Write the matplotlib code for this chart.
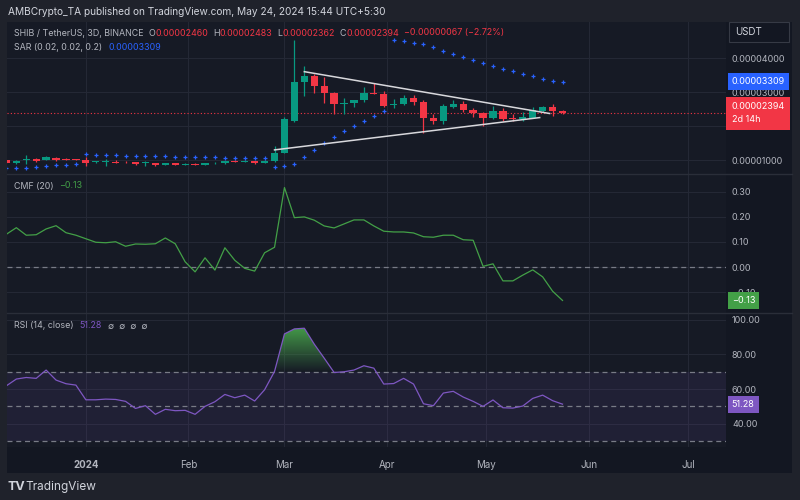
import numpy as np
import pandas as pd
import matplotlib
matplotlib.use("Agg")
import matplotlib.pyplot as plt
import matplotlib.dates as mdates
import matplotlib.transforms as mtransforms
from matplotlib.path import Path
from matplotlib.colors import LinearSegmentedColormap
from matplotlib.patches import Rectangle
from matplotlib.lines import Line2D

plt.rcParams['font.family'] = ['Inter', 'DejaVu Sans']

# SHIB/USDT 3D candles, prices in units of 1e-5 USDT
opens = [1.00, 0.93, 1.01, 1.03, 1.01, 1.08, 1.05, 1.04, 1.02, 0.94,
         0.95, 0.96, 0.96, 0.95, 0.92, 0.92, 0.87, 0.92, 0.88, 0.90,
         0.88, 0.91, 0.91, 0.99, 0.95, 0.97, 0.92, 0.97, 1.23, 2.17,
         3.30, 3.47, 3.20, 2.97, 2.67, 2.69, 2.78, 2.99, 2.95, 2.62,
         2.65, 2.84, 2.73, 2.25, 2.17, 2.58, 2.66, 2.49, 2.38, 2.25,
         2.44, 2.25, 2.22, 2.26, 2.46, 2.58, 2.460]
highs = [1.02, 1.01, 1.16, 1.07, 1.12, 1.10, 1.07, 1.05, 1.10, 0.98,
         1.03, 1.00, 0.97, 0.96, 0.99, 0.93, 0.92, 0.93, 0.91, 0.91,
         0.93, 0.94, 0.98, 1.00, 1.00, 0.98, 1.00, 1.43, 2.28, 4.53,
         3.79, 3.54, 3.46, 3.02, 2.84, 2.79, 3.17, 3.27, 3.05, 2.82,
         2.92, 2.92, 2.79, 2.36, 2.66, 2.79, 2.74, 2.53, 2.43, 2.61,
         2.54, 2.36, 2.43, 2.56, 2.59, 2.66, 2.483]
lows = [0.91, 0.90, 0.90, 0.95, 1.00, 0.99, 1.01, 1.00, 0.84, 0.93,
        0.84, 0.91, 0.93, 0.88, 0.85, 0.83, 0.86, 0.87, 0.87, 0.87,
        0.87, 0.90, 0.90, 0.94, 0.94, 0.90, 0.91, 0.96, 1.21, 2.12,
        2.90, 2.97, 2.68, 2.36, 2.36, 2.58, 2.71, 2.94, 2.56, 2.54,
        2.64, 2.62, 1.82, 2.07, 2.07, 2.53, 2.42, 2.28, 2.02, 2.21,
        2.17, 2.15, 2.15, 2.24, 2.42, 2.31, 2.362]
closes = [0.93, 0.98, 1.03, 0.99, 1.10, 1.02, 1.02, 1.02, 0.93, 0.97,
          0.96, 0.93, 0.94, 0.89, 0.94, 0.86, 0.91, 0.88, 0.90, 0.88,
          0.92, 0.93, 0.97, 0.95, 0.99, 0.91, 0.99, 1.23, 2.23, 3.30,
          3.47, 3.20, 2.97, 2.66, 2.69, 2.78, 2.99, 2.95, 2.61, 2.66,
          2.85, 2.73, 2.25, 2.17, 2.59, 2.66, 2.49, 2.38, 2.25, 2.44,
          2.22, 2.22, 2.27, 2.48, 2.58, 2.44, 2.394]

# Parabolic SAR (0.02, 0.02, 0.2)
sar = [0.78, 0.79, 0.79, 0.82, 0.85, 0.86, 0.87, 0.89, 1.18, 1.16,
       1.15, 1.15, 1.14, 1.13, 1.13, 1.12, 1.12, 1.11, 1.10, 1.10,
       1.10, 1.09, 1.08, 1.08, 1.07, 1.07, 1.06, 0.82, 0.83, 0.89,
       1.10, 1.31, 1.50, 1.68, 1.86, 2.02, 2.17, 2.32, 2.45, 4.55,
       4.50, 4.46, 4.42, 4.33, 4.22, 4.12, 4.03, 3.94, 3.86, 3.78,
       3.70, 3.62, 3.54, 3.47, 3.40, 3.35, 3.309]

cmf = [0.131, 0.157, 0.127, 0.129, 0.152, 0.165, 0.137, 0.127, 0.113, 0.099,
       0.097, 0.101, 0.083, 0.092, 0.091, 0.093, 0.116, 0.093, 0.021, -0.019,
       0.037, -0.012, 0.077, 0.027, -0.005, -0.016, 0.057, 0.079, 0.317, 0.197,
       0.200, 0.187, 0.164, 0.156, 0.172, 0.188, 0.188, 0.164, 0.143, 0.140,
       0.140, 0.136, 0.121, 0.119, 0.127, 0.127, 0.109, 0.107, 0.003, 0.013,
       -0.055, -0.055, -0.032, -0.011, -0.039, -0.096, -0.133]

rsi = [61.9, 65.8, 66.7, 66.2, 71.0, 65.2, 63.1, 62.3, 53.8, 53.8,
       54.2, 54.0, 52.9, 48.8, 50.4, 45.4, 48.3, 47.5, 47.7, 45.4,
       50.0, 52.7, 56.9, 55.0, 56.5, 53.1, 59.6, 70.2, 91.9, 94.8,
       95.2, 86.0, 77.9, 69.6, 70.0, 71.0, 73.5, 72.1, 62.9, 63.2,
       66.2, 62.9, 51.5, 50.4, 57.7, 58.7, 55.4, 52.9, 50.0, 53.7,
       49.2, 49.0, 50.2, 54.6, 56.5, 53.3, 51.28]

# symmetrical triangle: (bar index, price) at both ends
upper_line_bars = [30, 54.7]
upper_line_prices = [3.61, 2.38]
lower_line_bars = [27, 53.7]
lower_line_prices = [1.31, 2.26]

month_labels = ["2024", "Feb", "Mar", "Apr", "May", "Jun", "Jul"]
month_dates = ["2024-01-01", "2024-02-01", "2024-03-01", "2024-04-01",
               "2024-05-01", "2024-06-01", "2024-07-01"]

W, H = 800, 500
OUTER = "#1f222b"
PANE = "#161a25"
AXISBG = "#131722"
GRID = "#242835"
TEXT = "#b2b5be"
GREEN = "#089981"
RED = "#f23645"
BLUE = "#2962ff"
CMFC = "#43a047"
RSIC = "#7e57c2"
DASH = "#787b86"
FS = 6.5
LEG = 6.4

dates = pd.date_range(end="2024-05-24", periods=len(closes), freq="3D")
xs = mdates.date2num(dates)
x_left = xs[0] + 0.27
x_right = xs[-1] + 49.3
ticks = mdates.date2num(pd.to_datetime(month_dates))


def px_rect(x0, y0, x1, y1):
    return [x0 / W, 1 - y1 / H, (x1 - x0) / W, (y1 - y0) / H]


def pane(fig, top, bottom):
    ax = fig.add_axes(px_rect(7.3, top, 725.7, bottom))
    ax.set_facecolor(PANE)
    ax.set_xlim(x_left, x_right)
    ax.set_xticks(ticks)
    ax.grid(True, color=GRID, lw=0.8)
    ax.set_axisbelow(True)
    ax.yaxis.tick_right()
    ax.tick_params(axis="both", length=0, colors=TEXT, labelsize=FS)
    ax.tick_params(axis="y", pad=4.5)
    ax.tick_params(axis="x", labelbottom=False)
    for s in ax.spines.values():
        s.set_visible(False)
    return ax


def value_box(ax, y, label, color, pad=0.45, spacing=1.5):
    tr = mtransforms.blended_transform_factory(ax.transAxes, ax.transData)
    ax.text(1.0085, y, label, transform=tr, ha="left", va="center", color="white",
            fontsize=FS, clip_on=False, zorder=10, linespacing=spacing,
            bbox=dict(boxstyle=f"square,pad={pad}", fc=color, ec="none"))


def segments(fig, x, y, parts, size=LEG):
    # parts: (text, colour, gap in px before it)
    renderer = fig.canvas.get_renderer()
    for s, color, gap in parts:
        t = fig.text(x + gap, H - y, s, color=color, fontsize=size, va="center",
                     transform=mtransforms.IdentityTransform())
        x = t.get_window_extent(renderer).x1


def graph():
    fig = plt.figure(figsize=(8, 5), dpi=100)
    fig.patch.set_facecolor(OUTER)

    fig.add_artist(Rectangle((7.3 / W, 1 - 473 / H), (792 - 7.3) / W, (473 - 22) / H,
                             transform=fig.transFigure, fc=AXISBG, ec="none", zorder=-1))

    o = np.array(opens); h = np.array(highs); l = np.array(lows); c = np.array(closes)
    cols = np.where(c >= o, GREEN, RED)

    # price pane
    ax = pane(fig, 22, 173.5)
    ax.vlines(xs, l, h, colors=cols, lw=0.9, zorder=3)
    ax.bar(xs, np.maximum(np.abs(c - o), 0.025), bottom=np.minimum(o, c), width=2.2,
           color=cols, zorder=4)
    ax.plot(xs, sar, ls="none", marker="+", ms=3, mew=0.9, color=BLUE, zorder=5)
    ax.plot(xs[0] + np.array(upper_line_bars) * 3, upper_line_prices, color="#d8d8dc", lw=1.1, zorder=6)
    ax.plot(xs[0] + np.array(lower_line_bars) * 3, lower_line_prices, color="#d8d8dc", lw=1.1, zorder=6)
    ax.axhline(c[-1], color=RED, ls=(0, (1, 2)), lw=0.8, zorder=2)
    ax.set_ylim(0.616, 5.07)
    ax.set_yticks([1, 2, 3, 4])
    # the 0.00002000 label sits under the last-price box
    ax.set_yticklabels([f"{v * 1e-5:.8f}" if v != 2 else "" for v in [1, 2, 3, 4]])
    value_box(ax, sar[-1], f"{sar[-1] * 1e-5:.8f}", BLUE)
    value_box(ax, c[-1], f"{c[-1] * 1e-5:.8f}\n2d 14h", RED, pad=0.6, spacing=1.6)

    # CMF pane
    ax2 = pane(fig, 173.5, 313)
    ax2.plot(xs, cmf, color=CMFC, lw=0.9, zorder=3)
    ax2.axhline(0, color=DASH, ls=(0, (4, 3)), lw=0.9, zorder=2)
    ax2.set_ylim(-0.183, 0.373)
    ax2.set_yticks([-0.1, 0, 0.1, 0.2, 0.3])
    ax2.set_yticklabels([f"{v:.2f}".replace("-", "\u2212") for v in [-0.1, 0, 0.1, 0.2, 0.3]])
    value_box(ax2, cmf[-1], f"{cmf[-1]:.2f}".replace("-", "\u2212"), CMFC)

    # RSI pane
    ax3 = pane(fig, 313, 447)
    r = np.array(rsi)
    ax3.axhspan(30, 70, color=RSIC, alpha=0.1, lw=0, zorder=1)
    for lvl in (70, 50, 30):
        ax3.axhline(lvl, color=DASH, ls=(0, (4, 3)), lw=0.9, zorder=2)
    poly = ax3.fill_between(xs, r, 70, where=r > 70, interpolate=True, fc="none", ec="none")
    clip = Path.make_compound_path(*poly.get_paths())
    cmap = LinearSegmentedColormap.from_list("ob", [(0.3, 0.69, 0.31, 0.0), (0.3, 0.69, 0.31, 1.0)])
    im = ax3.imshow(np.linspace(1, 0, 256).reshape(-1, 1), extent=[xs[0], xs[-1], 70, 100],
                    aspect="auto", cmap=cmap, origin="upper", zorder=2.5)
    im.set_clip_path(clip, transform=ax3.transData)
    ax3.plot(xs, r, color=RSIC, lw=0.9, zorder=3)
    ax3.set_xlim(x_left, x_right)
    ax3.set_ylim(26.5, 104)
    ax3.set_yticks([40, 60, 80, 100])
    ax3.set_yticklabels([f"{v:.2f}" for v in [40, 60, 80, 100]])
    ax3.tick_params(axis="x", labelbottom=True, labelsize=7, pad=9)
    ax3.set_xticklabels(month_labels)
    ax3.get_xticklabels()[0].set_fontweight("bold")
    value_box(ax3, r[-1], f"{r[-1]:.2f}", RSIC)

    for y in (173.5, 313):
        fig.add_artist(Line2D([7.3 / W, 792 / W], [1 - y / H] * 2, color="#2a2e39", lw=1,
                              transform=fig.transFigure))

    # texts
    fig.text(8 / W, 1 - 12 / H, "AMBCrypto_TA published on TradingView.com, May 24, 2024 15:44 UTC+5:30",
             color="#d1d4dc", fontsize=7.3, va="center")
    segments(fig, 14, 33, [("SHIB / TetherUS, 3D, BINANCE", TEXT, 0), ("O", TEXT, 5),
                           ("0.00002460", RED, 0), ("H", TEXT, 5), ("0.00002483", RED, 0),
                           ("L", TEXT, 5), ("0.00002362", RED, 0), ("C", TEXT, 5),
                           ("0.00002394", RED, 0),
                           ("\u22120.00000067 (\u22122.72%)", RED, 5)])
    segments(fig, 14, 47, [("SAR (0.02, 0.02, 0.2)", TEXT, 0), ("0.00003309", BLUE, 6)])
    segments(fig, 14, 186, [("CMF (20)", TEXT, 0), ("\u22120.13", CMFC, 5)])
    segments(fig, 14, 326, [("RSI (14, close)", TEXT, 0), ("51.28", RSIC, 6),
                            ("\u2205  \u2205  \u2205  \u2205", TEXT, 6)])

    fig.add_artist(Rectangle((729 / W, 1 - 42 / H), 60 / W, 20 / H, transform=fig.transFigure,
                             fc=AXISBG, ec="#363a45", lw=0.8))
    fig.text(735 / W, 1 - 32 / H, "USDT", color="#d1d4dc", fontsize=7, va="center")
    fig.text(7 / W, 1 - 487 / H, "TV", color="#d1d4dc", fontsize=9, fontweight="bold", va="center")
    fig.text(25 / W, 1 - 487 / H, "TradingView", color="#d1d4dc", fontsize=8.5, va="center")

    fig.savefig("out.png", dpi=100, facecolor=OUTER)


graph()
